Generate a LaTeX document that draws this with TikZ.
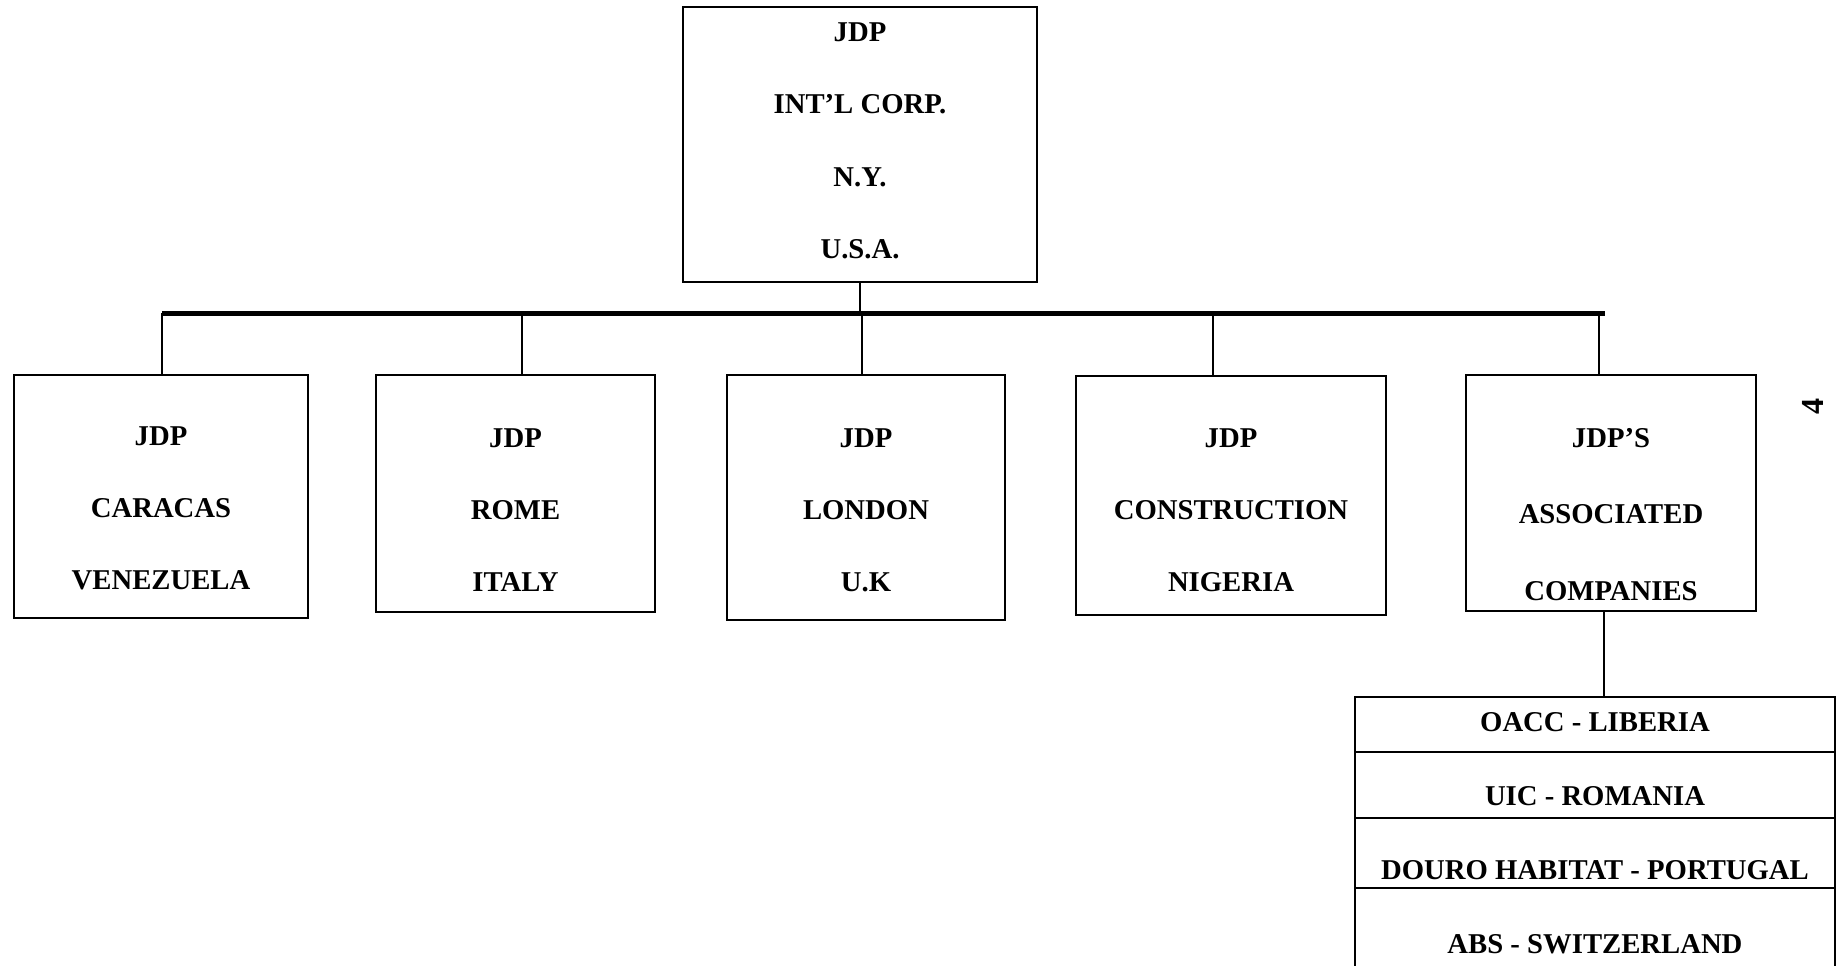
\documentclass[tikz,border=0pt]{standalone}
\usepackage{fontspec}
\setmainfont{Liberation Serif}
\usetikzlibrary{positioning}

% box text: width, height, first baseline, lines
\newcommand{\orgtext}[4]{\parbox[c][#2][t]{#1}{\centering\rule{0pt}{#3}#4}}

\tikzset{
  unit/.style={draw, line width=1.3pt, inner sep=0pt, outer sep=0pt,
    font=\bfseries\fontsize{28.7}{72}\selectfont},
  link/.style={line width=1.3pt},
  bus/.style={line width=5pt}
}

\begin{document}
\begin{tikzpicture}[x=1pt, y=-1pt]
  \useasboundingbox (0,0) rectangle (1840,966);

  % head office
  \node[unit, font=\bfseries\fontsize{28.7}{72.5}\selectfont] (hq) at (860,144.5)
    {\orgtext{354pt}{275pt}{34pt}{JDP\\INT'L CORP.\\N.Y.\\U.S.A.}};

  % branches
  \node[unit] (car) at (161,496.5) {\orgtext{294pt}{243pt}{70pt}{JDP\\CARACAS\\VENEZUELA}};
  \node[unit] (rome) at (515.5,493.5) {\orgtext{279pt}{237pt}{72pt}{JDP\\ROME\\ITALY}};
  \node[unit] (lon) at (866,497.5) {\orgtext{278pt}{245pt}{72pt}{JDP\\LONDON\\U.K}};
  \node[unit] (cons) at (1231,495.5) {\orgtext{310pt}{239pt}{71pt}{JDP\\CONSTRUCTION\\NIGERIA}};
  \node[unit, font=\bfseries\fontsize{28.7}{76.5}\selectfont] (assoc) at (1611,493)
    {\orgtext{290pt}{236pt}{72pt}{JDP'S\\ASSOCIATED\\COMPANIES}};

  % associated companies
  \node[unit] (lib) at (1595,724.5) {\orgtext{480pt}{55pt}{34pt}{OACC - LIBERIA}};
  \node[unit, below=0pt of lib] (rom) {\orgtext{480pt}{66pt}{53pt}{UIC - ROMANIA}};
  \node[unit, below=0pt of rom] (por) {\orgtext{480pt}{70pt}{61pt}{DOURO HABITAT - PORTUGAL}};
  \node[unit, below=0pt of por] (swi) {\orgtext{480pt}{90pt}{65pt}{ABS - SWITZERLAND}};

  % connectors
  \coordinate (busL) at (162,313);
  \coordinate (busR) at (1605,313);
  \draw[bus] (busL) -- (busR);
  \draw[link] (hq.south) -- (hq.south |- busL);
  \foreach \x/\n in {162/car, 522/rome, 862/lon, 1213/cons, 1599/assoc} {
    \coordinate (t\n) at (\x,313);
    \draw[link] (t\n) -- (t\n |- \n.north);
  }
  \draw[link] ([xshift=-7pt]assoc.south) -- ([xshift=-7pt]assoc.south |- lib.north);

  % page number
  \node[rotate=90, font=\bfseries\fontsize{32}{32}\selectfont] (pgnum) at (1813,406) {4};
\end{tikzpicture}
\end{document}
